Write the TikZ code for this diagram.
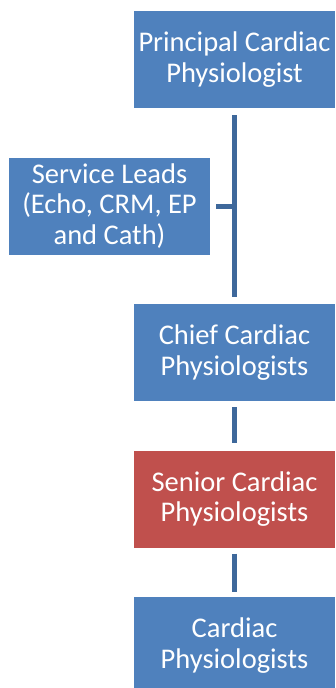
\documentclass[tikz,border=0pt]{standalone}
\usepackage{fontspec}
\setmainfont{Carlito}
\definecolor{boxblue}{RGB}{79,129,189}
\definecolor{boxred}{RGB}{192,80,77}
\definecolor{linkblue}{RGB}{62,104,155}
\begin{document}
\begin{tikzpicture}[x=1pt,y=-1pt,
  orgbox/.style={fill=boxblue, draw=none, minimum width=201pt, minimum height=97pt,
    inner sep=0pt, align=center, text=white,
    font=\fontsize{28.5}{30.5}\selectfont},
  redbox/.style={orgbox, fill=boxred},
  link/.style={draw=linkblue, line width=5pt}]
\useasboundingbox (0,0) rectangle (335,688);
\begin{scope}
\clip (0,0) rectangle (335,688);
\node[orgbox] (princ) at (234.5,59.5) {Principal Cardiac\\Physiologist};
\node[orgbox] (serv) at (109.5,206) {Service Leads\\(Echo, CRM, EP\\and Cath)};
\node[orgbox] (chief) at (234.5,352.5) {Chief Cardiac\\Physiologists};
\node[redbox] (senior) at (234.5,499) {Senior Cardiac\\Physiologists};
\node[orgbox] (card) at (234.5,645.5) {Cardiac\\Physiologists};
\end{scope}
\draw[link, shorten <=7pt, shorten >=7pt] (princ.south) -- (chief.north);
\coordinate (junc) at (princ.south |- serv.east);
\draw[link, shorten <=6pt] (serv.east) -- ([xshift=-2.5pt]junc);
\draw[link, shorten <=6pt, shorten >=7pt] (chief.south) -- (senior.north);
\draw[link, shorten <=6pt, shorten >=5pt] (senior.south) -- (card.north);
\end{tikzpicture}
\end{document}
